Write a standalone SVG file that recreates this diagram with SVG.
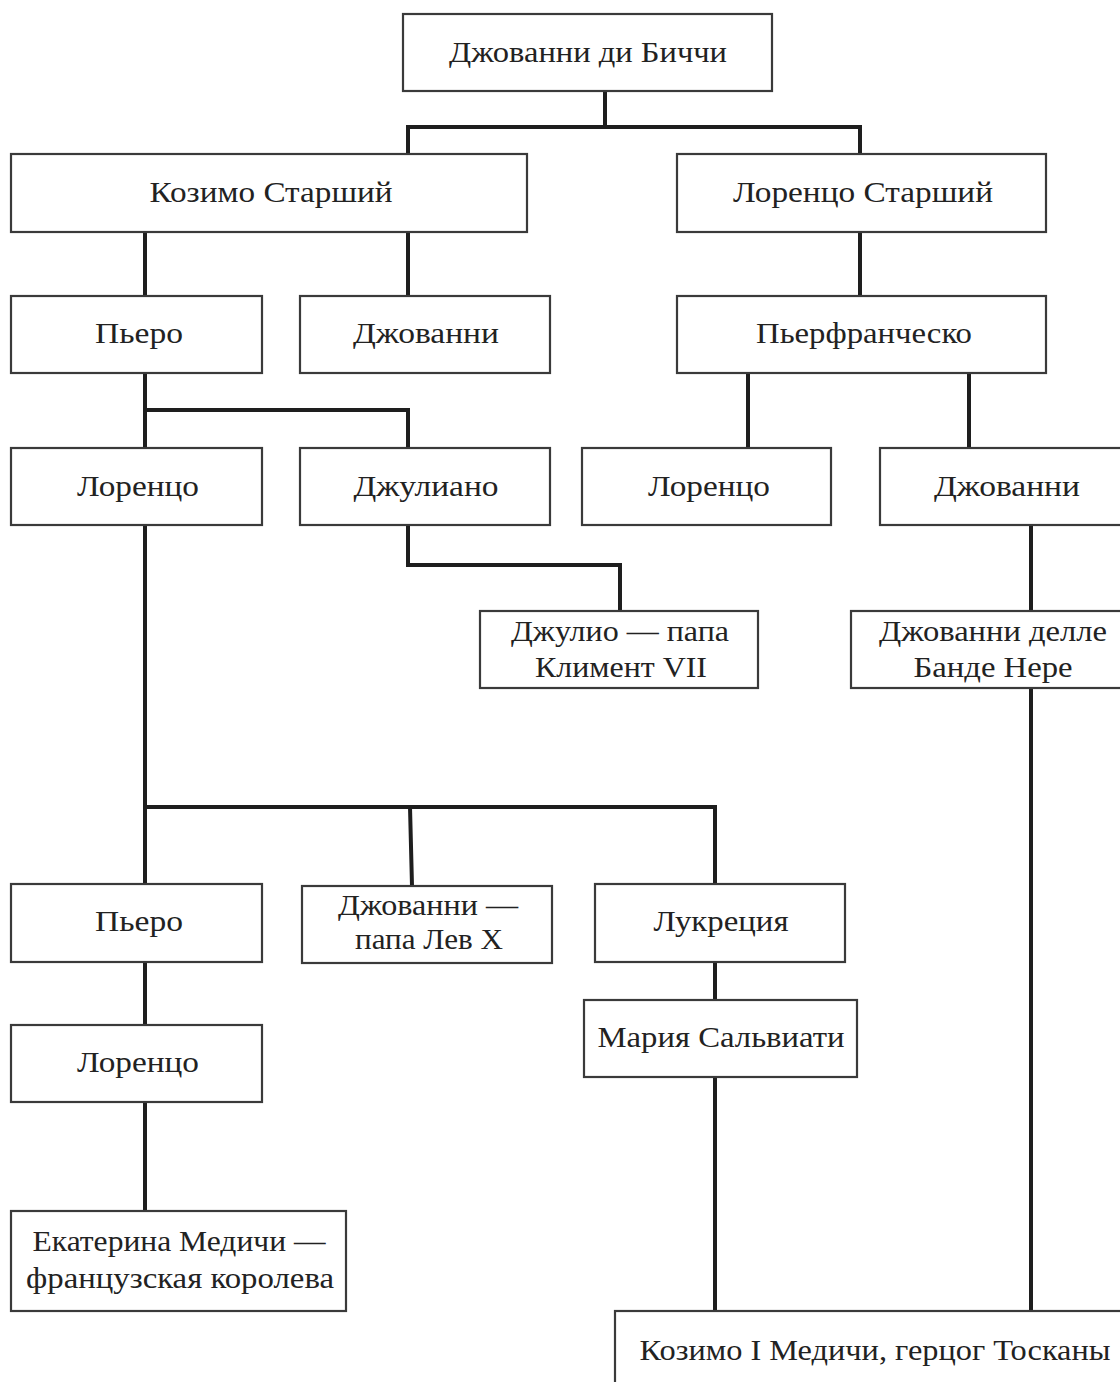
<svg xmlns="http://www.w3.org/2000/svg" width="1120" height="1382" viewBox="0 0 1120 1382">
<style>
.box{fill:#fff;stroke:#3a3a3a;stroke-width:2.2}
.t{font-family:"Liberation Serif","DejaVu Serif",serif;font-size:30px;fill:#222;text-anchor:middle}
.c{fill:none;stroke:#1e1e1e;stroke-width:4;stroke-linejoin:miter}
</style>
<rect width="1120" height="1382" fill="#fff"/>
<g id="connectors">
<path class="c" d="M605 91V127M408 154V127H860V154"/>
<path class="c" d="M145 232V296M408 232V296"/>
<path class="c" d="M860 232V296"/>
<path class="c" d="M145 373V448M145 410H408V448"/>
<path class="c" d="M748 373V448M969 373V448"/>
<path class="c" d="M408 525V565H620V611"/>
<path class="c" d="M1031 525V611"/>
<path class="c" d="M1031 688V1311"/>
<path class="c" d="M145 525V884M145 807H715V884M410 807L412 886"/>
<path class="c" d="M145 962V1025M145 1102V1211"/>
<path class="c" d="M715 962V1000M715 1077V1311"/>
</g>
<g id="n1"><rect class="box" x="403" y="14" width="369" height="77"/><text class="t" x="588" y="62" textLength="278" lengthAdjust="spacingAndGlyphs">Джованни ди Биччи</text></g>
<g id="n2"><rect class="box" x="11" y="154" width="516" height="78"/><text class="t" x="271" y="202" textLength="243" lengthAdjust="spacingAndGlyphs">Козимо Старший</text></g>
<g id="n3"><rect class="box" x="677" y="154" width="369" height="78"/><text class="t" x="863" y="202" textLength="260" lengthAdjust="spacingAndGlyphs">Лоренцо Старший</text></g>
<g id="n4"><rect class="box" x="11" y="296" width="251" height="77"/><text class="t" x="139" y="343" textLength="88" lengthAdjust="spacingAndGlyphs">Пьеро</text></g>
<g id="n5"><rect class="box" x="300" y="296" width="250" height="77"/><text class="t" x="426" y="343" textLength="146" lengthAdjust="spacingAndGlyphs">Джованни</text></g>
<g id="n6"><rect class="box" x="677" y="296" width="369" height="77"/><text class="t" x="864" y="343" textLength="216" lengthAdjust="spacingAndGlyphs">Пьерфранческо</text></g>
<g id="n7"><rect class="box" x="11" y="448" width="251" height="77"/><text class="t" x="138" y="496" textLength="122" lengthAdjust="spacingAndGlyphs">Лоренцо</text></g>
<g id="n8"><rect class="box" x="300" y="448" width="250" height="77"/><text class="t" x="426" y="496" textLength="145" lengthAdjust="spacingAndGlyphs">Джулиано</text></g>
<g id="n9"><rect class="box" x="582" y="448" width="249" height="77"/><text class="t" x="709" y="496" textLength="122" lengthAdjust="spacingAndGlyphs">Лоренцо</text></g>
<g id="n10"><rect class="box" x="880" y="448" width="260" height="77"/><text class="t" x="1007" y="496" textLength="146" lengthAdjust="spacingAndGlyphs">Джованни</text></g>
<g id="n11"><rect class="box" x="480" y="611" width="278" height="77"/><text class="t" x="620" y="641" textLength="218" lengthAdjust="spacingAndGlyphs">Джулио — папа</text><text class="t" x="621" y="677" textLength="172" lengthAdjust="spacingAndGlyphs">Климент VII</text></g>
<g id="n12"><rect class="box" x="851" y="611" width="290" height="77"/><text class="t" x="993" y="641" textLength="228" lengthAdjust="spacingAndGlyphs">Джованни делле</text><text class="t" x="993" y="677" textLength="159" lengthAdjust="spacingAndGlyphs">Банде Нере</text></g>
<g id="n13"><rect class="box" x="11" y="884" width="251" height="78"/><text class="t" x="139" y="931" textLength="88" lengthAdjust="spacingAndGlyphs">Пьеро</text></g>
<g id="n14"><rect class="box" x="302" y="886" width="250" height="77"/><text class="t" x="428" y="915" textLength="180" lengthAdjust="spacingAndGlyphs">Джованни —</text><text class="t" x="429" y="949" textLength="148" lengthAdjust="spacingAndGlyphs">папа Лев X</text></g>
<g id="n15"><rect class="box" x="595" y="884" width="250" height="78"/><text class="t" x="721" y="931" textLength="135" lengthAdjust="spacingAndGlyphs">Лукреция</text></g>
<g id="n16"><rect class="box" x="11" y="1025" width="251" height="77"/><text class="t" x="138" y="1072" textLength="122" lengthAdjust="spacingAndGlyphs">Лоренцо</text></g>
<g id="n17"><rect class="box" x="584" y="1000" width="273" height="77"/><text class="t" x="721" y="1047" textLength="247" lengthAdjust="spacingAndGlyphs">Мария Сальвиати</text></g>
<g id="n18"><rect class="box" x="11" y="1211" width="335" height="100"/><text class="t" x="179" y="1251" textLength="293" lengthAdjust="spacingAndGlyphs">Екатерина Медичи —</text><text class="t" x="180" y="1288" textLength="308" lengthAdjust="spacingAndGlyphs">французская королева</text></g>
<g id="n19"><rect class="box" x="615" y="1311" width="530" height="100"/><text class="t" x="875" y="1360" textLength="471" lengthAdjust="spacingAndGlyphs">Козимо I Медичи, герцог Тосканы</text></g>
</svg>
